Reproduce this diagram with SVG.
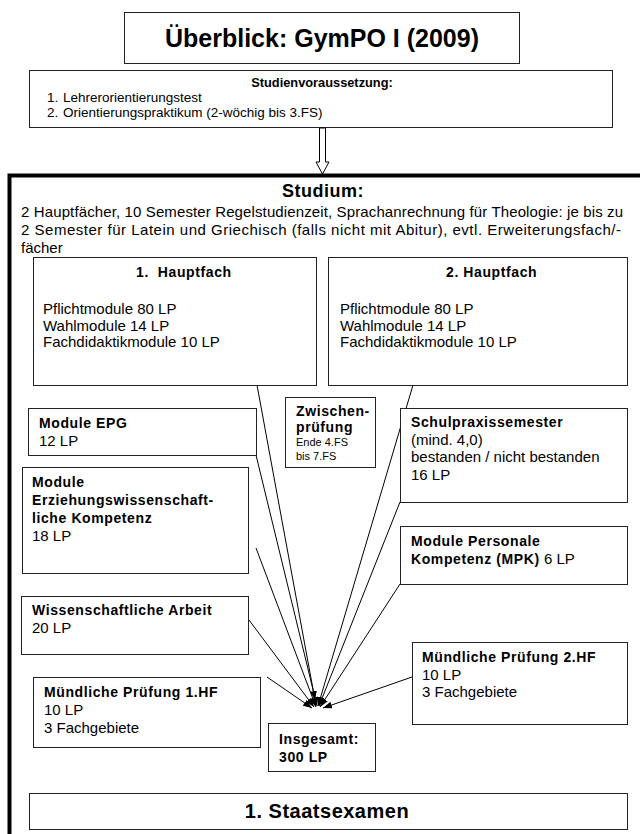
<svg xmlns="http://www.w3.org/2000/svg" width="640" height="834" viewBox="0 0 640 834">
<style>
.box{fill:#fff;stroke:#222;stroke-width:1}
text{font-family:"Liberation Sans",Arial,sans-serif;fill:#000}
.t{font-size:15px}
.i{font-size:13.5px}
.b{font-size:14px;font-weight:bold;letter-spacing:0.6px}
.s{font-size:11px}
.c{stroke:#000;stroke-width:1;fill:none;marker-end:url(#ah)}
</style>
<defs>
<marker id="ah" markerUnits="userSpaceOnUse" markerWidth="9" markerHeight="7" refX="9" refY="3.5" orient="auto"><path d="M0,0 L9,3.5 L0,7 z" fill="#000"/></marker>
</defs>
<rect width="640" height="834" fill="#fff"/>

<g id="title">
<rect class="box" x="124.5" y="12.5" width="395" height="51"/>
<text x="322" y="47" text-anchor="middle" font-size="25" font-weight="bold">Überblick: GymPO I (2009)</text>
</g>

<g id="studienvoraussetzung">
<rect class="box" x="29.5" y="70.5" width="583" height="57"/>
<text x="322" y="86.5" text-anchor="middle" font-size="12.8" font-weight="bold">Studienvoraussetzung:</text>
<text class="i" x="47" y="101.5">1.</text>
<text class="i" x="63" y="101.5">Lehrerorientierungstest</text>
<text class="i" x="47" y="117">2.</text>
<text class="i" x="63" y="117">Orientierungspraktikum (2-wöchig bis 3.FS)</text>
</g>

<g id="arrow-down">
<polygon points="319.5,128 325.5,128 325.5,162 329,162 322.5,174 316,162 319.5,162" fill="#fff" stroke="#000" stroke-width="1"/>
</g>

<g id="studium">
<path d="M9.5,840 V175.5 H645" fill="none" stroke="#000" stroke-width="4"/>
<text x="323" y="197" text-anchor="middle" font-size="18" font-weight="bold" letter-spacing="0.5">Studium:</text>
<text class="t" x="21" y="217" textLength="602" lengthAdjust="spacing">2 Hauptfächer, 10 Semester Regelstudienzeit, Sprachanrechnung für Theologie: je bis zu</text>
<text class="t" x="21" y="235" textLength="600" lengthAdjust="spacing">2 Semester für Latein und Griechisch (falls nicht mit Abitur), evtl. Erweiterungsfach/-</text>
<text class="t" x="21" y="253">fächer</text>
</g>

<g id="connectors">
<line class="c" x1="257" y1="385" x2="315" y2="700"/>
<line class="c" x1="256" y1="455" x2="317" y2="706"/>
<line class="c" x1="256" y1="548" x2="316" y2="707"/>
<line class="c" x1="249" y1="620" x2="314" y2="707"/>
<line class="c" x1="267" y1="677" x2="312" y2="708"/>
<line class="c" x1="413" y1="385" x2="318" y2="706"/>
<line class="c" x1="400" y1="502" x2="319" y2="706"/>
<line class="c" x1="400" y1="584" x2="320" y2="707"/>
<line class="c" x1="412" y1="677" x2="323" y2="708"/>
</g>

<g id="hauptfach1">
<rect class="box" x="33.5" y="257.5" width="283" height="128"/>
<text class="b" x="136" y="277" xml:space="preserve">1.  Hauptfach</text>
<text class="t" x="43" y="314">Pflichtmodule 80 LP</text>
<text class="t" x="43" y="330.5">Wahlmodule 14 LP</text>
<text class="t" x="43" y="347">Fachdidaktikmodule 10 LP</text>
</g>

<g id="hauptfach2">
<rect class="box" x="328.5" y="257.5" width="299" height="128"/>
<text class="b" x="446" y="277">2. Hauptfach</text>
<text class="t" x="340" y="314">Pflichtmodule 80 LP</text>
<text class="t" x="340" y="330.5">Wahlmodule 14 LP</text>
<text class="t" x="340" y="347">Fachdidaktikmodule 10 LP</text>
</g>

<g id="epg">
<rect class="box" x="28.5" y="408.5" width="228" height="47"/>
<text class="b" x="39" y="428">Module EPG</text>
<text class="t" x="39" y="446">12 LP</text>
</g>

<g id="zwischenpruefung">
<rect class="box" x="285.5" y="397.5" width="90" height="70"/>
<text class="b" x="296" y="416" font-size="13.5" letter-spacing="0.5">Zwischen-</text>
<text class="b" x="296" y="432" font-size="13.5" letter-spacing="0.5">prüfung</text>
<text class="s" x="296" y="445.5">Ende 4.FS</text>
<text class="s" x="296" y="460">bis 7.FS</text>
</g>

<g id="schulpraxissemester">
<rect class="box" x="400.5" y="408.5" width="227" height="94"/>
<text class="b" x="411" y="427">Schulpraxissemester</text>
<text class="t" x="411" y="445">(mind. 4,0)</text>
<text class="t" x="411" y="462">bestanden / nicht bestanden</text>
<text class="t" x="411" y="480">16 LP</text>
</g>

<g id="erziehungswissenschaft">
<rect class="box" x="22.5" y="467.5" width="226" height="106"/>
<text class="b" x="32" y="487">Module</text>
<text class="b" x="32" y="505">Erziehungswissenschaft-</text>
<text class="b" x="32" y="523">liche Kompetenz</text>
<text class="t" x="32" y="541">18 LP</text>
</g>

<g id="mpk">
<rect class="box" x="400.5" y="526.5" width="227" height="58"/>
<text class="b" x="411" y="546">Module Personale</text>
<text class="b" x="411" y="564">Kompetenz (MPK)<tspan class="t" font-weight="normal" letter-spacing="0"> 6 LP</tspan></text>
</g>

<g id="wissenschaftliche-arbeit">
<rect class="box" x="21.5" y="596.5" width="227" height="58"/>
<text class="b" x="32" y="615">Wissenschaftliche Arbeit</text>
<text class="t" x="32" y="633">20 LP</text>
</g>

<g id="muendlich2">
<rect class="box" x="412.5" y="642.5" width="215" height="82"/>
<text class="b" x="422" y="662">Mündliche Prüfung 2.HF</text>
<text class="t" x="422" y="679.5">10 LP</text>
<text class="t" x="422" y="697">3 Fachgebiete</text>
</g>

<g id="muendlich1">
<rect class="box" x="33.5" y="677.5" width="227" height="70"/>
<text class="b" x="44" y="697">Mündliche Prüfung 1.HF</text>
<text class="t" x="44" y="715">10 LP</text>
<text class="t" x="44" y="733">3 Fachgebiete</text>
</g>

<g id="insgesamt">
<rect class="box" x="268.5" y="723.5" width="107" height="48"/>
<text class="b" x="279" y="744">Insgesamt:</text>
<text class="b" x="279" y="762">300 LP</text>
</g>

<g id="staatsexamen">
<rect class="box" x="29.5" y="793.5" width="598" height="36"/>
<text x="327" y="818" text-anchor="middle" font-size="20" font-weight="bold" letter-spacing="0.5">1. Staatsexamen</text>
</g>
</svg>
